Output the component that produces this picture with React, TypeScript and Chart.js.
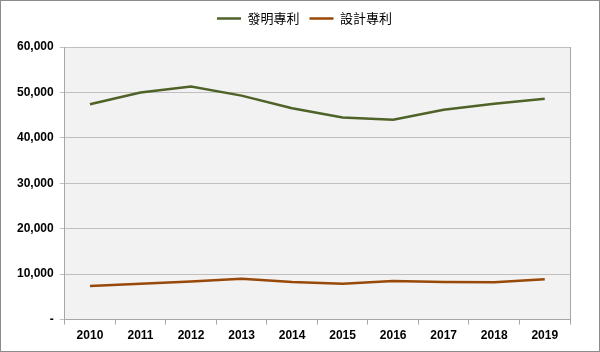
import React, { useEffect, useRef } from "react";
import { Chart, registerables } from "chart.js";

Chart.register(...registerables);

const years = ["2010", "2011", "2012", "2013", "2014", "2015", "2016", "2017", "2018", "2019"];
const inventionPatents = [47400, 50000, 51300, 49300, 46500, 44500, 44000, 46200, 47500, 48600];
const designPatents = [7400, 7900, 8400, 9000, 8250, 7900, 8500, 8300, 8200, 8900];
const seriesNames = ["發明專利", "設計專利"];
const yTicks = [0, 10000, 20000, 30000, 40000, 50000, 60000];

const plotBg = {
  id: "plotBg",
  afterInit(chart: any) {
    const lg = chart.legend;
    if (lg && !lg.__patched) {
      const orig = lg.fit.bind(lg);
      lg.fit = function () {
        orig();
        this.height += 12;
      };
      lg.__patched = true;
    }
  },
  afterLayout(chart: any) {
    const lg = chart.legend;
    if (lg) {
      lg.left += 14;
      lg.right += 14;
    }
  },
  beforeDraw(chart: any) {
    const { ctx, chartArea } = chart;
    if (!chartArea) return;
    ctx.save();
    ctx.fillStyle = "#f2f2f2";
    ctx.fillRect(chartArea.left, chartArea.top, chartArea.right - chartArea.left, chartArea.bottom - chartArea.top);
    ctx.restore();
  },
  afterDatasetsDraw(chart: any) {
    const { ctx, chartArea } = chart;
    ctx.save();
    ctx.strokeStyle = "#a6a6a6";
    ctx.lineWidth = 1;
    ctx.beginPath();
    ctx.moveTo(Math.round(chartArea.right) + 0.5, chartArea.top);
    ctx.lineTo(Math.round(chartArea.right) + 0.5, chartArea.bottom);
    ctx.stroke();
    ctx.restore();
  },
};

export default function App() {
  const ref = useRef<HTMLCanvasElement>(null);
  useEffect(() => {
    const fmt = (v: number) => (v === 0 ? "-" : v.toLocaleString("en-US"));
    const chart = new Chart(ref.current!, {
      type: "line",
      data: {
        labels: years,
        datasets: [
          {
            label: seriesNames[0],
            data: inventionPatents,
            borderColor: "#4f6228",
            backgroundColor: "#4f6228",
            borderWidth: 2.5,
            pointRadius: 0,
            tension: 0,
          },
          {
            label: seriesNames[1],
            data: designPatents,
            borderColor: "#984807",
            backgroundColor: "#984807",
            borderWidth: 2.5,
            pointRadius: 0,
            tension: 0,
          },
        ],
      },
      options: {
        animation: false,
        responsive: false,
        maintainAspectRatio: false,
        layout: { padding: { left: 10, right: 29, top: 1, bottom: 4 } },
        plugins: {
          tooltip: { enabled: false },
          legend: {
            position: "top",
            labels: {
              usePointStyle: true,
              pointStyle: "line",
              pointStyleWidth: 24,
              color: "#000",
              font: { family: "'Noto Sans CJK TC', sans-serif", size: 13 },
              padding: 10,
              boxHeight: 13,
            },
          },
        },
        scales: {
          x: {
            offset: true,
            grid: {
              offset: true,
              drawOnChartArea: false,
              drawTicks: true,
              tickLength: 5,
              color: "#a6a6a6",
            },
            border: { color: "#a6a6a6" },
            ticks: {
              color: "#000",
              font: { family: "'Liberation Sans', Arial, sans-serif", size: 12, weight: "bold" },
              maxRotation: 0,
              padding: 4,
            },
          },
          y: {
            min: 0,
            max: 60000,
            afterBuildTicks: (axis: any) => {
              axis.ticks = yTicks.map((v) => ({ value: v }));
            },
            grid: { color: "#c0c0c0", tickLength: 5, drawTicks: true },
            border: { color: "#a6a6a6" },
            ticks: {
              color: "#000",
              font: { family: "'Liberation Sans', Arial, sans-serif", size: 12, weight: "bold" },
              padding: 6,
              callback: (v: any) => fmt(Number(v)),
            },
          },
        },
      },
      plugins: [plotBg],
    } as any);
    return () => chart.destroy();
  }, []);
  return (
    <div
      style={{
        position: "absolute",
        left: 0,
        top: 0,
        width: 600,
        height: 352,
        boxSizing: "border-box",
        border: "1px solid #8c8c8c",
        background: "#fff",
      }}
    >
      <canvas ref={ref} width={598} height={350} style={{ display: "block" }} />
    </div>
  );
}
